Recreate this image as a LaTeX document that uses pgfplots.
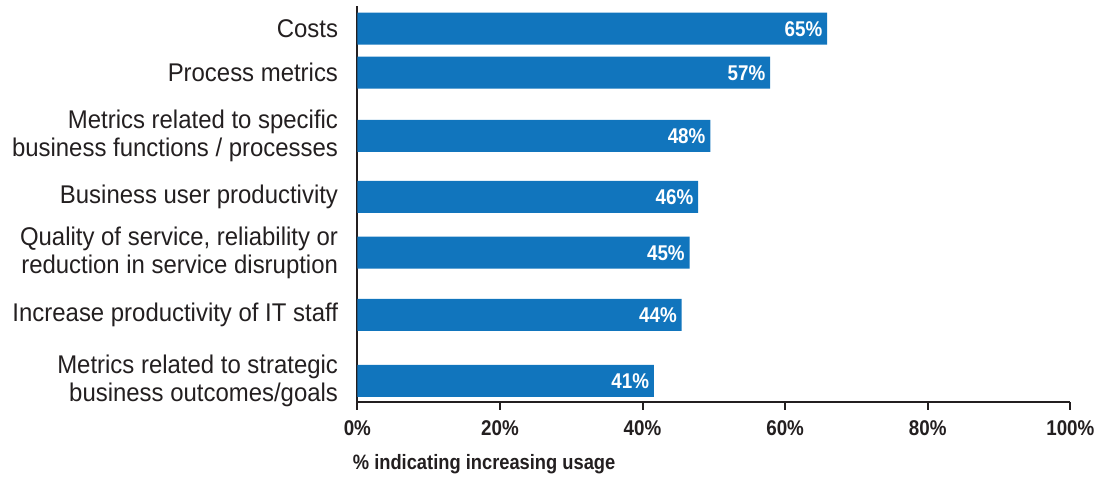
\documentclass[border=0pt]{standalone}
\usepackage{fontspec}
\setmainfont{Liberation Sans}[FakeStretch=0.88]
\newfontfamily\catfont{Liberation Sans}[FakeStretch=0.935]
\usepackage{pgfplots}
\pgfplotsset{compat=1.18}
\definecolor{barblue}{RGB}{17,117,189}
\definecolor{ink}{RGB}{35,31,32}

\begin{document}
\begin{tikzpicture}
\path[use as bounding box] (-268pt,-56.5pt) rectangle (570.5pt,301.3pt);
\begin{axis}[
  at={(0,0)}, anchor=south west,
  scale only axis,
  width=534.75pt, height=296.8pt,
  xbar, bar width=32,
  xmin=0, xmax=100, ymin=0, ymax=395.7,
  axis lines=left,
  axis line style={-, ink, line width=1.6pt},
  tick align=outside,
  major tick length=6pt,
  xtick style={ink, line width=1.5pt},
  ytick style={draw=none},
  xtick={0,20,...,100},
  xticklabels={0\%,20\%,40\%,60\%,80\%,100\%},
  xticklabel style={font=\bfseries\fontsize{16pt}{16pt}\selectfont, text=ink,
    inner sep=0pt, anchor=base, yshift=-19pt},
  ytick={373,329,265.9,204.9,149,86.9,20.9},
  yticklabels={{Costs},{Process metrics},
    {Metrics related to specific\\business functions / processes},
    {Business user productivity},
    {Quality of service, reliability or\\reduction in service disruption},
    {Increase productivity of IT staff},
    {Metrics related to strategic\\business outcomes/goals}},
  yticklabel style={font=\catfont\fontsize{19.2pt}{21pt}\selectfont, text=ink,
    align=right, anchor=east, inner sep=0pt, xshift=-8.3pt},
  xlabel={\% indicating increasing usage},
  xlabel style={at={(axis description cs:0,0)}, anchor=base west,
    xshift=-3.5pt, yshift=-50.5pt, inner sep=0pt, text=ink,
    font=\bfseries\fontsize{15.6pt}{15.6pt}\selectfont},
  point meta=explicit symbolic,
  nodes near coords,
  nodes near coords style={anchor=east, inner sep=0pt, xshift=-3.5pt,
    text=white, font=\bfseries\fontsize{16pt}{16pt}\selectfont},
]
\addplot[fill=barblue, draw=none] coordinates {
  (65.9,373) [65\%]
  (57.9,329) [57\%]
  (49.5,265.9) [48\%]
  (47.8,204.9) [46\%]
  (46.6,149) [45\%]
  (45.5,86.9) [44\%]
  (41.6,20.9) [41\%]
};
\end{axis}
\end{tikzpicture}
\end{document}
